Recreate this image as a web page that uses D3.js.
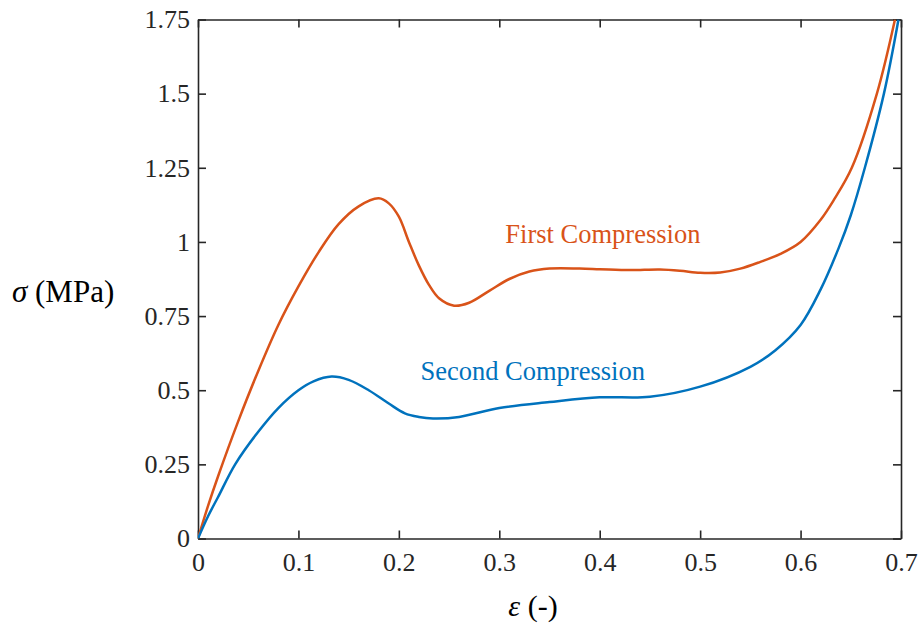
<!DOCTYPE html>
<html>
<head>
<meta charset="utf-8">
<script src="https://cdn.jsdelivr.net/npm/d3@7"></script>
<style>
  body { margin: 0; background: #fff; }
</style>
</head>
<body>
<script>
// strain values
var firstStrain  = [0, 0.01, 0.02, 0.04, 0.06, 0.08, 0.10, 0.12, 0.14, 0.16, 0.18, 0.19, 0.20, 0.21, 0.22, 0.23, 0.24, 0.255, 0.27, 0.29, 0.31, 0.33, 0.35, 0.38, 0.40, 0.43, 0.46, 0.48, 0.50, 0.52, 0.54, 0.56, 0.58, 0.60, 0.62, 0.633, 0.651, 0.676, 0.694];
var firstStress  = [0, 0.11, 0.21, 0.395, 0.565, 0.72, 0.85, 0.965, 1.06, 1.12, 1.147, 1.13, 1.085, 1.0, 0.92, 0.855, 0.81, 0.785, 0.795, 0.835, 0.875, 0.9, 0.91, 0.91, 0.908, 0.905, 0.907, 0.903, 0.896, 0.897, 0.91, 0.933, 0.96, 1.0, 1.075, 1.141, 1.25, 1.5, 1.75];

var secondStrain = [0, 0.01, 0.02, 0.037, 0.06, 0.08, 0.10, 0.115, 0.133, 0.15, 0.17, 0.19, 0.206, 0.22, 0.234, 0.26, 0.30, 0.35, 0.40, 0.45, 0.50, 0.55, 0.575, 0.60, 0.62, 0.638, 0.65, 0.664, 0.683, 0.6975];
var secondStress = [0, 0.075, 0.14, 0.25, 0.36, 0.44, 0.5, 0.53, 0.546, 0.535, 0.5, 0.455, 0.422, 0.41, 0.405, 0.41, 0.44, 0.46, 0.476, 0.478, 0.512, 0.579, 0.635, 0.72, 0.84, 0.98, 1.09, 1.25, 1.5, 1.75];

var xTicks = [0, 0.1, 0.2, 0.3, 0.4, 0.5, 0.6, 0.7];
var xTickLabels = ["0", "0.1", "0.2", "0.3", "0.4", "0.5", "0.6", "0.7"];
var yTicks = [0, 0.25, 0.5, 0.75, 1, 1.25, 1.5, 1.75];
var yTickLabels = ["0", "0.25", "0.5", "0.75", "1", "1.25", "1.5", "1.75"];

var orange = "#D95319", blue = "#0072BD", axisColor = "#262626";
var serif = "'Liberation Serif'";

var width = 921, height = 626;
var margin = { left: 198, right: 20, top: 19.5, bottom: 87.5 };
var innerW = width - margin.left - margin.right;
var innerH = height - margin.top - margin.bottom;

var svg = d3.select("body").append("svg")
    .attr("width", width)
    .attr("height", height)
    .style("font-family", serif);

var g = svg.append("g")
    .attr("transform", "translate(" + margin.left + "," + margin.top + ")");

var x = d3.scaleLinear().domain([0, 0.7]).range([0, innerW]);
var y = d3.scaleLinear().domain([0, 1.75]).range([innerH, 0]);

g.append("clipPath").attr("id", "plotClip")
    .append("rect").attr("width", innerW).attr("height", innerH);

//Build the point lists
function zipSeries(xs, ys) {
    return xs.map(function (v, i) { return [v, ys[i]]; });
}

var line = d3.line()
    .x(function (d) { return x(d[0]); })
    .y(function (d) { return y(d[1]); })
    .curve(d3.curveCatmullRom.alpha(0.5));

//Axes with inward ticks on all four sides
function styleAxis(sel) {
    sel.attr("font-family", null);
    sel.selectAll(".domain").attr("stroke", axisColor).attr("stroke-width", 1.6);
    sel.selectAll(".tick line").attr("stroke", axisColor).attr("stroke-width", 1.6);
    sel.selectAll(".tick text")
        .attr("fill", axisColor)
        .style("font-family", serif)
        .style("font-size", "26px");
}

var xAxis = g.append("g")
    .attr("transform", "translate(0," + innerH + ")")
    .call(d3.axisBottom(x).tickValues(xTicks)
        .tickFormat(function (d, i) { return xTickLabels[i]; })
        .tickSizeInner(-8).tickSizeOuter(0).tickPadding(14))
    .call(styleAxis);
xAxis.selectAll(".tick text").attr("dy", "0.71em");

g.append("g")
    .call(d3.axisTop(x).tickValues(xTicks).tickFormat("")
        .tickSizeInner(-8).tickSizeOuter(0))
    .call(styleAxis);

g.append("g")
    .call(d3.axisLeft(y).tickValues(yTicks)
        .tickFormat(function (d, i) { return yTickLabels[i]; })
        .tickSizeInner(-8).tickSizeOuter(0).tickPadding(8))
    .call(styleAxis);

g.append("g")
    .attr("transform", "translate(" + innerW + ",0)")
    .call(d3.axisRight(y).tickValues(yTicks).tickFormat("")
        .tickSizeInner(-8).tickSizeOuter(0))
    .call(styleAxis);

//Curves
var curves = g.append("g").attr("clip-path", "url(#plotClip)");

curves.append("path")
    .datum(zipSeries(firstStrain, firstStress))
    .attr("fill", "none")
    .attr("stroke", orange)
    .attr("stroke-width", 2.5)
    .attr("d", line);

curves.append("path")
    .datum(zipSeries(secondStrain, secondStress))
    .attr("fill", "none")
    .attr("stroke", blue)
    .attr("stroke-width", 2.5)
    .attr("d", line);

//Curve labels
g.append("text")
    .attr("x", x(0.306))
    .attr("y", y(1.0) + 1)
    .attr("fill", orange)
    .style("font-family", serif)
    .style("font-size", "26.5px")
    .text("First Compression");

g.append("text")
    .attr("x", x(0.2215))
    .attr("y", y(0.535))
    .attr("fill", blue)
    .style("font-family", serif)
    .style("font-size", "26.5px")
    .text("Second Compression");

//Axis titles
var yTitle = svg.append("text")
    .attr("x", 12)
    .attr("y", 302)
    .attr("fill", "#000")
    .style("font-family", serif)
    .style("font-size", "31px");
yTitle.append("tspan").style("font-style", "italic").text("σ");
yTitle.append("tspan").text(" (MPa)");

var xTitle = svg.append("text")
    .attr("x", 533)
    .attr("y", 616)
    .attr("text-anchor", "middle")
    .attr("fill", "#000")
    .style("font-family", serif)
    .style("font-size", "30px");
xTitle.append("tspan").style("font-style", "italic").text("ε");
xTitle.append("tspan").text(" (-)");
</script>
</body>
</html>
